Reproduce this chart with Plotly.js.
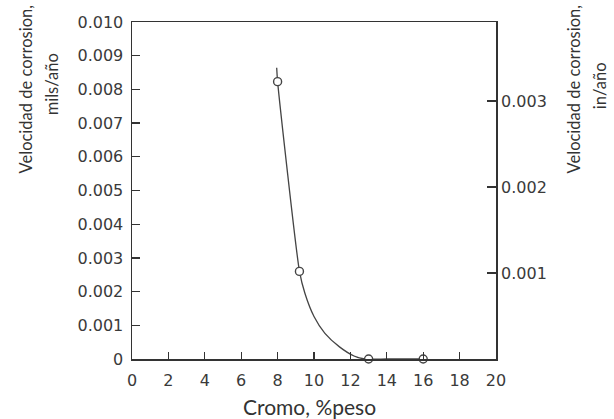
<!DOCTYPE html>
<html>
<head>
<meta charset="utf-8">
<script src="https://cdn.plot.ly/plotly-3.0.1.min.js"></script>
<style>html,body{margin:0;padding:0;background:#fff;}#chart{width:614px;height:419px;}</style>
</head>
<body>
<div id="chart"></div>
<script>
// Measured points (Cromo %peso vs corrosion rate, mils/año)
const pointX = [8.0, 9.2, 13.0, 16.0];
const pointY = [0.00823, 0.00260, 0.0, 0.0];

// Fitted curve
const curveX = [7.95, 8.0, 9.2, 9.5, 10.0, 10.6, 11.4, 12.2, 12.8, 14.0, 16.0];
const curveY = [0.00864, 0.00823, 0.00261, 0.00195, 0.00126, 0.00076, 0.00036, 0.00009, 0.0, 0.0, 0.0];

// Axis ticks
const xTicks = [0, 2, 4, 6, 8, 10, 12, 14, 16, 18, 20];
const yTicks = [0, 0.001, 0.002, 0.003, 0.004, 0.005, 0.006, 0.007, 0.008, 0.009, 0.010];
const yTickText = ["0", "0.001", "0.002", "0.003", "0.004", "0.005", "0.006", "0.007", "0.008", "0.009", "0.010"];
const y2Ticks = [0.001, 0.002, 0.003];
const y2TickText = ["0.001", "0.002", "0.003"];

const axisColor = '#333';
const tickFont = {family: 'DejaVu Sans', size: 16, color: '#3a3a3a'};
const titleFont = {family: 'Lato', size: 16.5, color: '#333'};

const traces = [
  {x: curveX, y: curveY, type: 'scatter', mode: 'lines',
   line: {color: '#444', width: 1.3, shape: 'spline', smoothing: 0.6},
   hoverinfo: 'skip', showlegend: false, cliponaxis: false},
  {x: pointX, y: pointY, type: 'scatter', mode: 'markers',
   marker: {symbol: 'circle', size: 8, color: '#fff', line: {color: '#444', width: 1.4}},
   showlegend: false, cliponaxis: false},
  {x: [null], y: [null], yaxis: 'y2', type: 'scatter', mode: 'lines', showlegend: false, hoverinfo: 'skip'}
];

function vtitle(text, x, y) {
  return {text: text, xref: 'paper', yref: 'paper', x: x, y: y,
          xanchor: 'center', yanchor: 'middle', showarrow: false, textangle: -90, font: titleFont};
}

const layout = {
  width: 614, height: 419,
  margin: {l: 132, r: 118, t: 22, b: 60},
  paper_bgcolor: '#fff', plot_bgcolor: '#fff',
  showlegend: false,
  xaxis: {range: [0, 20], tickmode: 'array', tickvals: xTicks, ticktext: xTicks.map(String),
          ticks: 'inside', ticklen: 7, tickwidth: 1.3, tickcolor: axisColor,
          showline: true, linecolor: axisColor, linewidth: 1.5, mirror: true,
          showgrid: false, zeroline: false, tickfont: tickFont, ticklabelstandoff: 6},
  yaxis: {range: [0, 0.010], tickmode: 'array', tickvals: yTicks, ticktext: yTickText,
          ticks: 'inside', ticklen: 8, tickwidth: 1.3, tickcolor: axisColor,
          showline: true, linecolor: axisColor, linewidth: 1.5, mirror: true,
          showgrid: false, zeroline: false, tickfont: tickFont, ticklabelstandoff: 4},
  yaxis2: {range: [0, 0.00392], overlaying: 'y', side: 'right', tickmode: 'array',
           tickvals: y2Ticks, ticktext: y2TickText,
           ticks: 'inside', ticklen: 9, tickwidth: 1.3, tickcolor: axisColor,
           showline: false, showgrid: false, zeroline: false, tickfont: tickFont, ticklabelstandoff: 4},
  annotations: [
    {text: 'Cromo, %peso', xref: 'paper', yref: 'paper', x: 0.4876, y: -0.142,
     xanchor: 'center', yanchor: 'middle', showarrow: false,
     font: {family: 'Lato', size: 21, color: '#333'}},
    vtitle('Velocidad de corrosion,', -0.2912, 0.80),
    vtitle('mils/año', -0.2198, 0.815),
    vtitle('Velocidad de corrosion,', 1.2143, 0.80),
    vtitle('in/año', 1.288, 0.812)
  ]
};

Plotly.newPlot('chart', traces, layout, {displayModeBar: false, staticPlot: true});
</script>
</body>
</html>
